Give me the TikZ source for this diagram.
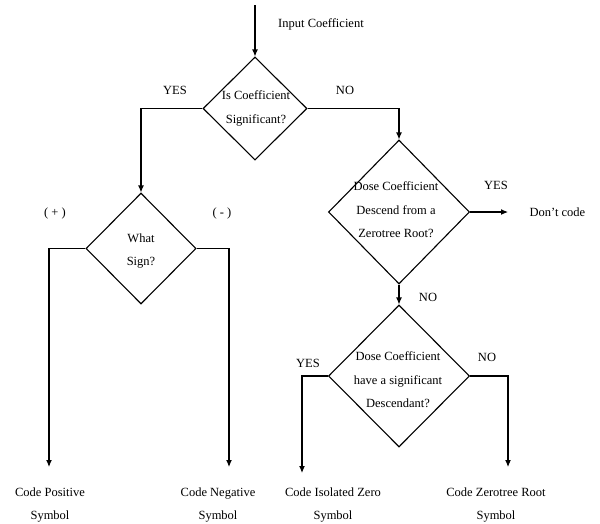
\documentclass[tikz,border=0pt]{standalone}
\usepackage{fontspec}
\setmainfont{Liberation Serif}
\usetikzlibrary{shapes.geometric,arrows.meta}
\begin{document}
\begin{tikzpicture}[x=1pt,y=-1pt,
  line width=1.1pt,
  dia/.style={draw,shape=diamond,inner sep=0pt,line width=1.1pt},
  txt/.style={align=center,inner sep=0pt,font=\fontsize{12.5}{23.5}\selectfont},
  arr/.style={-{Latex[length=7pt,width=6pt]}},
  flow/.style={line width=1.1pt}]
\useasboundingbox (0,0) rectangle (600,523);
% diamonds
\node[dia,minimum width=104pt,minimum height=103pt] (d1) at (255,108.5) {};
\node[dia,minimum width=110pt,minimum height=111pt] (d2) at (141,248.5) {};
\node[dia,minimum width=141pt,minimum height=144pt] (d3) at (399,212) {};
\node[dia,minimum width=141pt,minimum height=142pt] (d4) at (399,376) {};
% diamond texts
\node[txt] (t1) at (256,108.5) {Is Coefficient\\Significant?};
\node[txt] (t2) at (141,251) {What\\Sign?};
\node[txt] (t3) at (396,210) {Dose Coefficient\\Descend from a\\Zerotree Root?};
\node[txt] (t4) at (398,380) {Dose Coefficient\\have a significant\\Descendant?};
% labels
\node[txt] (lin) at (321,24) {Input Coefficient};
\node[txt] (ly1) at (175,90) {YES};
\node[txt] (ln1) at (345,90) {NO};
\node[txt] (lp) at (55,213) {( + )};
\node[txt] (lm) at (222,213) {( - )};
\node[txt] (ly3) at (496,185) {YES};
\node[txt] (ln3) at (428,297) {NO};
\node[txt] (ly4) at (308,363) {YES};
\node[txt] (ln4) at (487,357) {NO};
\node[txt,anchor=west] (dc) at (529,212) {Don't code};
% outputs
\node[txt] (o1) at (50,505) {Code Positive\\Symbol};
\node[txt] (o2) at (218,505) {Code Negative\\Symbol};
\node[txt] (o3) at (333,505) {Code Isolated Zero\\Symbol};
\node[txt] (o4) at (496,505) {Code Zerotree Root\\Symbol};
% free ends
\coordinate (cin) at (255,5);
\coordinate (cp) at (49,467);
\coordinate (cm) at (229,467);
\coordinate (cdc) at (508,212);
\coordinate (ciz) at (302,473);
\coordinate (czr) at (508,467);
% connectors
\draw[arr] (cin) -- (d1.north);
\draw[arr] (d1.west) -| (d2.north);
\draw[arr] (d1.east) -| (d3.north);
\draw[arr] (d2.west) -| (cp);
\draw[arr] (d2.east) -| (cm);
\draw[arr] (d3.east) -- (cdc);
\draw[arr] (d3.south) -- (d4.north);
\draw[arr] (d4.west) -| (ciz);
\draw[arr] (d4.east) -| (czr);
\end{tikzpicture}
\end{document}
